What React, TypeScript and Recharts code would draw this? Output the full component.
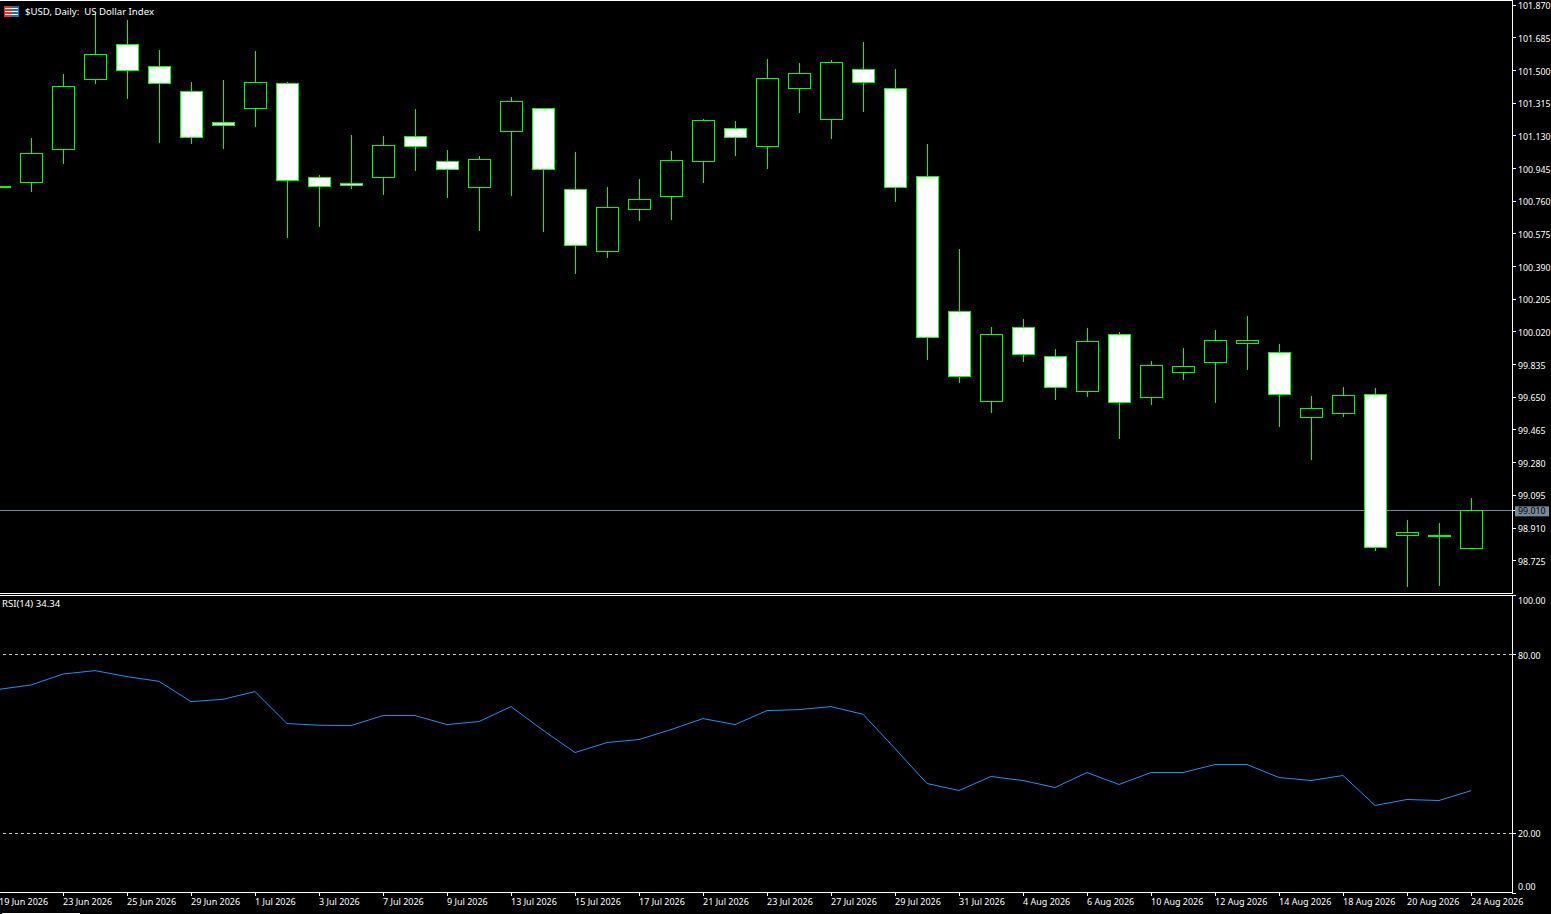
import { ComposedChart, Bar, Line, XAxis, YAxis, ReferenceLine } from "recharts";

const tickLabels = [
  "19 Jun 2026", "23 Jun 2026", "25 Jun 2026", "29 Jun 2026", "1 Jul 2026", "3 Jul 2026",
  "7 Jul 2026", "9 Jul 2026", "13 Jul 2026", "15 Jul 2026", "17 Jul 2026", "21 Jul 2026",
  "23 Jul 2026", "27 Jul 2026", "29 Jul 2026", "31 Jul 2026", "4 Aug 2026", "6 Aug 2026",
  "10 Aug 2026", "12 Aug 2026", "14 Aug 2026", "18 Aug 2026", "20 Aug 2026", "24 Aug 2026",
];

const opens = [
  100.837, 100.865, 101.055, 101.449, 101.649, 101.525, 101.383, 101.208, 101.285, 101.428,
  100.896, 100.862, 100.894, 101.128, 100.987, 100.839, 101.157, 101.287, 100.828, 100.477,
  100.715, 100.788, 100.987, 101.173, 101.072, 101.4, 101.224, 101.508, 101.4, 100.902,
  100.137, 99.628, 100.047, 99.882, 99.684, 100.007, 99.65, 99.792, 99.849, 99.956,
  99.905, 99.537, 99.56, 99.667, 98.869, 98.869, 98.795,
];
const closes = [
  100.845, 101.032, 101.411, 101.593, 101.502, 101.428, 101.123, 101.191, 101.434, 100.879,
  100.843, 100.848, 101.077, 101.072, 100.941, 100.998, 101.326, 100.941, 100.511, 100.726,
  100.771, 100.992, 101.219, 101.123, 101.457, 101.485, 101.547, 101.434, 100.839, 99.99,
  99.769, 100.007, 99.894, 99.707, 99.967, 99.622, 99.831, 99.826, 99.973, 99.973,
  99.667, 99.588, 99.662, 98.801, 98.886, 98.864, 99.01,
];
const highs = [
  100.85, 101.119, 101.481, 101.832, 101.787, 101.617, 101.436, 101.447, 101.611, 101.436,
  100.909, 101.136, 101.13, 101.283, 101.051, 101.017, 101.351, 101.288, 101.039, 100.841,
  100.886, 101.045, 101.226, 101.215, 101.566, 101.543, 101.56, 101.662, 101.509, 101.085,
  100.49, 100.048, 100.094, 99.924, 100.043, 100.02, 99.856, 99.929, 100.031, 100.111,
  99.952, 99.658, 99.709, 99.703, 98.956, 98.939, 99.08,
];
const lows = [
  100.83, 100.813, 100.973, 101.426, 101.338, 101.092, 101.086, 101.058, 101.183, 100.554,
  100.616, 100.831, 100.798, 100.933, 100.78, 100.594, 100.792, 100.588, 100.35, 100.441,
  100.65, 100.656, 100.865, 101.018, 100.945, 101.262, 101.115, 101.268, 100.758, 99.863,
  99.733, 99.563, 99.852, 99.637, 99.654, 99.416, 99.608, 99.75, 99.62, 99.807,
  99.484, 99.297, 99.54, 98.782, 98.578, 98.584, 98.79,
];
const rsiValues = [
  68.35, 69.8, 73.48, 74.62, 72.61, 71.03, 64.23, 65.0, 67.58, 56.86,
  56.29, 56.18, 59.54, 59.54, 56.52, 57.53, 62.55, 54.61, 47.13, 50.49,
  51.49, 54.84, 58.53, 56.52, 61.21, 61.55, 62.55, 59.97, 48.47, 36.74,
  34.39, 39.09, 37.75, 35.4, 40.43, 36.41, 40.43, 40.43, 43.11, 43.11,
  38.75, 37.75, 39.42, 29.37, 31.38, 31.04, 34.34,
];

const lastPrice = 99.01;
const priceTicks = [
  101.87, 101.685, 101.5, 101.315, 101.13, 100.945, 100.76, 100.575, 100.39, 100.205,
  100.02, 99.835, 99.65, 99.465, 99.28, 99.095, lastPrice, 98.91, 98.725,
];
const rsiTicks = [0, 20, 80, 100];

const candles = opens.map((open, i) => ({
  i,
  open,
  close: closes[i],
  high: highs[i],
  low: lows[i],
  range: [lows[i], highs[i]],
  rsi: rsiValues[i],
}));

const FONT = "'Noto Sans', sans-serif";
const GREEN = "#00FF00";
const GREY = "#778899";
const xDomain = [0, 47.28125];
const priceDomain = [98.542, 101.894];
const xTicks = tickLabels.map((_, i) => i * 2);

const Candle = (props: any) => {
  const { x, y, width, height, payload } = props;
  const { open, close, high, low } = payload;
  const perUnit = height / (high - low);
  const top = y + (high - Math.max(open, close)) * perUnit;
  const bottom = y + (high - Math.min(open, close)) * perUnit;
  const cx = x + width / 2 + 0.5;
  return (
    <g shapeRendering="crispEdges">
      <line x1={cx} x2={cx} y1={y} y2={y + height} stroke={GREEN} />
      <rect
        x={x + 0.5}
        width={width}
        y={Math.floor(top) + 0.5}
        height={Math.max(Math.floor(bottom) - Math.floor(top), 1)}
        fill={close >= open ? "#000000" : "#FFFFFF"}
        stroke={GREEN}
      />
    </g>
  );
};

const PriceTick = ({ x, y, payload }: any) => {
  if (payload.value === lastPrice) {
    return (
      <g>
        <rect x={x - 3} y={y - 4} width={34} height={10} fill={GREY} />
        <text x={x} y={y} dy={4} fontSize={8.8} fontFamily={FONT} fill="#000000">
          {payload.value.toFixed(3)}
        </text>
      </g>
    );
  }
  return (
    <text x={x} y={y} dy={4} fontSize={8.8} fontFamily={FONT} fill="#FFFFFF">
      {payload.value.toFixed(3)}
    </text>
  );
};

const RsiTick = ({ x, y, payload }: any) => {
  // the end labels sit inside the pane
  const shift = payload.value === 100 ? 5 : payload.value === 0 ? -7 : 0;
  return (
    <text x={x} y={y + shift} dy={4} fontSize={8.8} fontFamily={FONT} fill="#FFFFFF">
      {payload.value.toFixed(2)}
    </text>
  );
};

const DateTick = ({ x, y, payload }: any) => (
  <text x={x} y={y} dy={8} fontSize={9} fontFamily={FONT} fill="#FFFFFF">
    {tickLabels[payload.value / 2]}
  </text>
);

const labelStyle: any = {
  position: "absolute",
  fontFamily: FONT,
  fontSize: 9.6,
  lineHeight: "12px",
  color: "#FFFFFF",
  whiteSpace: "pre",
};

const axisLine = { stroke: "#FFFFFF", shapeRendering: "crispEdges" };

const frameLine = (top: number, width = 1513): any => ({
  position: "absolute",
  left: 0,
  top,
  width,
  height: 1,
  background: "#FFFFFF",
});

export default function App() {
  return (
    <div style={{ position: "absolute", left: 0, top: 0, width: 1551, height: 914, overflow: "hidden", background: "#000000" }}>
      {/* price line sits under the candles, so it gets its own chart behind them */}
      <div style={{ position: "absolute", left: -1, top: 0 }}>
        <ComposedChart width={1552} height={594} data={candles} margin={{ top: 1, right: 0, bottom: 1, left: 0 }}>
          <XAxis dataKey="i" type="number" domain={xDomain} hide height={0} />
          <YAxis orientation="right" width={39} domain={priceDomain} allowDataOverflow tick={false} axisLine={false} tickLine={false} />
          <ReferenceLine y={lastPrice} stroke={GREY} shapeRendering="crispEdges" />
        </ComposedChart>
      </div>

      <div style={{ position: "absolute", left: -1, top: 0 }}>
        <ComposedChart width={1552} height={594} data={candles} margin={{ top: 1, right: 0, bottom: 1, left: 0 }}>
          <XAxis
            dataKey="i"
            type="number"
            domain={xDomain}
            ticks={xTicks}
            allowDataOverflow
            tick={false}
            tickLine={false}
            height={0}
            axisLine={false}
          />
          <YAxis
            orientation="right"
            width={39}
            domain={priceDomain}
            allowDataOverflow
            ticks={priceTicks}
            interval={0}
            tick={<PriceTick />}
            tickSize={4}
            tickMargin={2}
            axisLine={axisLine}
            tickLine={axisLine}
          />
          <Bar dataKey="range" barSize={22} shape={<Candle />} isAnimationActive={false} />
        </ComposedChart>
      </div>

      <div style={frameLine(0)} />
      <div style={frameLine(593)} />
      <div style={frameLine(595)} />
      <div style={frameLine(892)} />

      <div style={{ position: "absolute", left: -1, top: 595 }}>
        <ComposedChart width={1552} height={319} data={candles} margin={{ top: 0, right: 0, bottom: 0, left: 0 }}>
          <XAxis
            dataKey="i"
            type="number"
            domain={xDomain}
            ticks={xTicks}
            interval={0}
            allowDataOverflow
            height={21}
            tick={<DateTick />}
            tickSize={3}
            tickMargin={1}
            axisLine={false}
            tickLine={axisLine}
          />
          <YAxis
            orientation="right"
            width={39}
            domain={[0, 100]}
            ticks={rsiTicks}
            interval={0}
            tick={<RsiTick />}
            tickSize={4}
            tickMargin={2}
            axisLine={axisLine}
            tickLine={axisLine}
          />
          <ReferenceLine y={80} stroke="#C8C8C8" strokeDasharray="3 3" shapeRendering="crispEdges" />
          <ReferenceLine y={20} stroke="#C8C8C8" strokeDasharray="3 3" shapeRendering="crispEdges" />
          <Line dataKey="rsi" type="linear" stroke="#1E90FF" strokeWidth={1} dot={false} isAnimationActive={false} />
        </ComposedChart>
      </div>

      <svg style={{ position: "absolute", left: 4, top: 6 }} width={15} height={11} shapeRendering="crispEdges">
        <rect width={8} height={11} fill="#D8362A" />
        <rect x={8} width={7} height={11} fill="#1A6FB5" />
        <rect x={1} y={2} width={13} height={1} fill="#FFFFFF" />
        <rect x={1} y={5} width={13} height={1} fill="#FFFFFF" />
        <rect x={1} y={8} width={13} height={1} fill="#FFFFFF" />
      </svg>
      <div style={{ ...labelStyle, left: 25, top: 6 }}>{"$USD, Daily:  US Dollar Index"}</div>
      <div style={{ ...labelStyle, left: 2, top: 598 }}>RSI(14) 34.34</div>

      <div style={{ position: "absolute", left: 2, top: 913, width: 78, height: 1, background: "#FFFFFF" }} />
    </div>
  );
}
